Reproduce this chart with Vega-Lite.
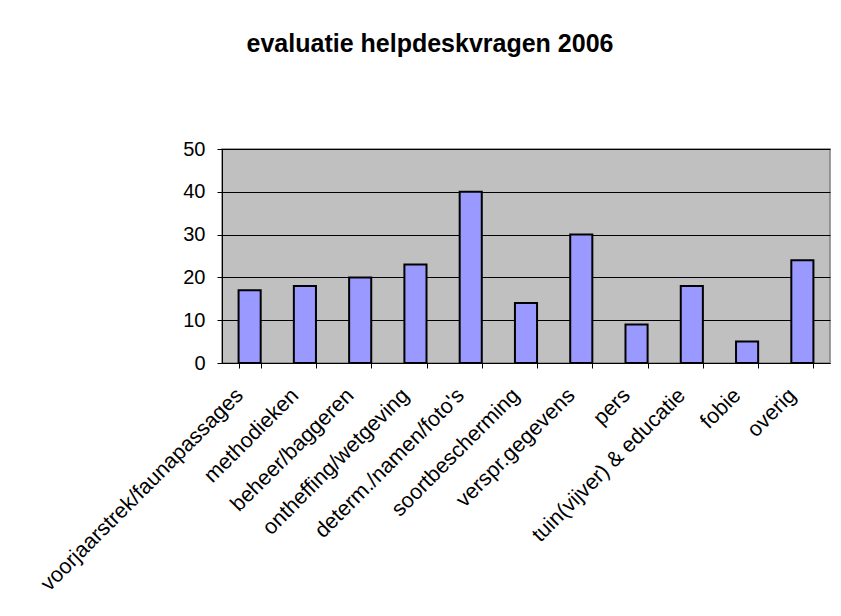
{
  "$schema": "https://vega.github.io/schema/vega-lite/v6.json",
  "width": 608,
  "height": 214,
  "autosize": {"type": "none"},
  "padding": {"left": 222, "top": 149, "right": 11, "bottom": 253},
  "background": "white",
  "title": {
    "text": "evaluatie helpdeskvragen 2006",
    "font": "Liberation Sans",
    "fontSize": 25,
    "fontWeight": "bold",
    "color": "black",
    "anchor": "middle",
    "baseline": "alphabetic",
    "dx": -96,
    "offset": 62
  },
  "data": {
    "values": [
      {"categorie": "voorjaarstrek/faunapassages", "aantal": 17},
      {"categorie": "methodieken", "aantal": 18},
      {"categorie": "beheer/baggeren", "aantal": 20},
      {"categorie": "ontheffing/wetgeving", "aantal": 23},
      {"categorie": "determ./namen/foto's", "aantal": 40},
      {"categorie": "soortbescherming", "aantal": 14},
      {"categorie": "verspr.gegevens", "aantal": 30},
      {"categorie": "pers", "aantal": 9},
      {"categorie": "tuin(vijver) & educatie", "aantal": 18},
      {"categorie": "fobie", "aantal": 5},
      {"categorie": "overig", "aantal": 24}
    ]
  },
  "mark": {"type": "bar", "fill": "#9999FF", "stroke": "black", "strokeWidth": 2},
  "encoding": {
    "x": {
      "field": "categorie",
      "type": "nominal",
      "sort": null,
      "scale": {"paddingInner": 0.6, "paddingOuter": 0.3},
      "axis": {
        "title": null,
        "labelAngle": -45,
        "labelAlign": "right",
        "labelBaseline": "middle",
        "labelFont": "Liberation Sans",
        "labelFontSize": 21.5,
        "labelColor": "black",
        "labelPadding": 24,
        "labelOffset": -10,
        "labelLimit": 0,
        "labelOverlap": false,
        "tickBand": "extent",
        "tickSize": 5,
        "tickColor": "black",
        "domainColor": "black",
        "grid": false
      }
    },
    "y": {
      "field": "aantal",
      "type": "quantitative",
      "scale": {"domain": [0, 50], "nice": false},
      "axis": {
        "title": null,
        "values": [0, 10, 20, 30, 40, 50],
        "labelFont": "Liberation Sans",
        "labelFontSize": 20,
        "labelColor": "black",
        "labelPadding": 12,
        "tickSize": 5,
        "tickColor": "black",
        "domainColor": "black",
        "grid": true,
        "gridColor": "black",
        "gridOpacity": 1
      }
    }
  },
  "config": {
    "view": {"fill": "#C0C0C0", "stroke": "#808080", "strokeWidth": 1.5}
  }
}
